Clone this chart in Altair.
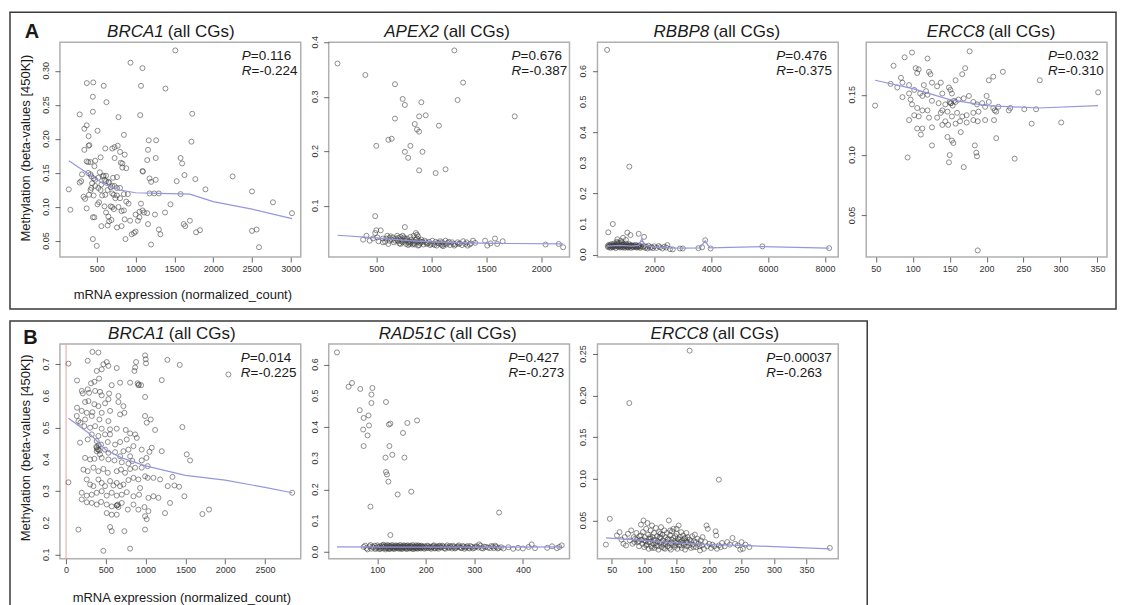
import altair as alt
import pandas as pd

FONT = "Liberation Sans"
W, H = 241, 215

# ---------------- data ----------------
A1_PTS = [(1512,0.330),(935,0.312),(1089,0.304),(372,0.282),(455,0.283),(590,0.278),(1070,0.278),(1385,0.274),
 (450,0.262),(625,0.254),(450,0.240),(1060,0.235),(780,0.232),(1730,0.237),(280,0.236),(340,0.215),(370,0.220),
 (510,0.212),(395,0.204),(850,0.206),(1720,0.196),(1170,0.198),(1265,0.198),(395,0.190),(405,0.191),(610,0.186),
 (700,0.186),(730,0.188),(770,0.190),(340,0.184),(1160,0.184),(860,0.177),(800,0.181),(730,0.172),(1260,0.172),
 (1580,0.172),(480,0.168),(370,0.167),(390,0.166),(420,0.166),(550,0.173),(810,0.165),(830,0.164),(1150,0.169),
 (1600,0.164),(830,0.158),(880,0.157),(1090,0.153),(1095,0.152),(280,0.136),(300,0.138),(310,0.148),(390,0.150),
 (420,0.148),(430,0.145),(460,0.142),(480,0.140),(520,0.143),(580,0.145),(590,0.146),(600,0.140),(620,0.138),
 (650,0.137),(660,0.136),(700,0.131),(730,0.131),(760,0.128),(800,0.128),(1180,0.142),(1260,0.140),(1200,0.137),
 (1530,0.138),(1630,0.147),(1770,0.141),(2250,0.145),(330,0.115),(400,0.118),(420,0.125),(430,0.128),(460,0.117),
 (350,0.112),(140,0.126),(160,0.096),(550,0.125),(570,0.117),(610,0.118),(700,0.120),(720,0.118),(740,0.113),
 (760,0.117),(800,0.113),(850,0.119),(900,0.119),(1180,0.120),(1240,0.120),(1300,0.120),(1580,0.119),(1900,0.126),
 (2500,0.123),(370,0.098),(510,0.104),(530,0.107),(600,0.101),(620,0.092),(650,0.086),(680,0.101),(700,0.100),
 (720,0.097),(780,0.100),(820,0.094),(850,0.095),(880,0.108),(910,0.105),(1000,0.089),(1050,0.093),(1070,0.105),
 (1090,0.095),(1110,0.092),(1150,0.091),(1250,0.089),(1380,0.092),(1450,0.104),(2770,0.107),(3015,0.091),
 (450,0.085),(470,0.085),(560,0.072),(640,0.073),(660,0.079),(690,0.081),(760,0.070),(820,0.072),(860,0.082),
 (930,0.080),(1030,0.080),(1050,0.085),(1160,0.075),(1620,0.075),(1640,0.072),(1700,0.080),(1780,0.063),
 (1830,0.066),(450,0.053),(500,0.043),(870,0.053),(950,0.060),(980,0.062),(1000,0.064),(1200,0.045),(1300,0.067),
 (1320,0.060),(2500,0.065),(2560,0.067),(2590,0.041),(440,0.135),(480,0.131),(520,0.128),(560,0.133),(640,0.125),
 (680,0.129),(540,0.151),(470,0.160),(620,0.146),(710,0.143),(760,0.144)]
A1_LOW = [(140,0.168),(400,0.148),(600,0.133),(800,0.125),(1000,0.121),(1300,0.120),(1700,0.119),(2000,0.108),
 (2500,0.097),(3015,0.083)]

A2_PTS = [(147,0.361),(400,0.340),(670,0.323),(1290,0.326),(1210,0.385),(740,0.296),(760,0.285),(910,0.290),
 (1240,0.294),(670,0.260),(890,0.264),(950,0.266),(1070,0.247),(850,0.250),(870,0.240),(890,0.236),(1760,0.264),
 (500,0.210),(610,0.221),(640,0.223),(810,0.210),(760,0.199),(920,0.199),(790,0.188),(890,0.165),(1040,0.160),
 (1130,0.167),(490,0.081),(760,0.061),
 (380,0.038),(410,0.045),(440,0.036),(470,0.040),(490,0.050),(500,0.055),(510,0.042),(520,0.035),(540,0.055),
 (560,0.040),(580,0.034),(600,0.045),(620,0.036),(640,0.038),(650,0.042),(660,0.033),(680,0.040),(690,0.045),
 (700,0.035),(710,0.031),(720,0.043),(730,0.038),(740,0.033),(750,0.042),(760,0.036),(770,0.030),(780,0.040),
 (790,0.028),(800,0.035),(810,0.032),(820,0.038),(830,0.029),(840,0.045),(850,0.034),(860,0.050),(870,0.040),
 (880,0.027),(890,0.036),(900,0.031),(910,0.038),(920,0.034),(930,0.029),(950,0.033),(970,0.031),(990,0.028),
 (1010,0.036),(1020,0.030),(1040,0.034),(1050,0.027),(1060,0.032),(1080,0.035),(1090,0.029),(1100,0.033),
 (1110,0.026),(1120,0.030),(1130,0.036),(1150,0.032),(1170,0.028),(1190,0.033),(1200,0.030),(1220,0.029),
 (1240,0.033),(1260,0.031),(1290,0.035),(1310,0.030),(1330,0.027),(1350,0.029),(1380,0.036),(1400,0.032),
 (1490,0.036),(1510,0.027),(1540,0.031),(1580,0.040),(1600,0.030),(1650,0.035),(2040,0.029),(2160,0.030),
 (2200,0.024),(870,0.047),(880,0.044),(620,0.041),(690,0.037),(730,0.035),(760,0.040),(800,0.030),(840,0.031),
 (560,0.033),(590,0.040),(610,0.030),(630,0.044),(670,0.036),(700,0.041),(720,0.030),(740,0.045),(770,0.037),
 (790,0.033),(810,0.043),(825,0.034),(850,0.029),(860,0.038),(875,0.033),(890,0.028),(905,0.034),(940,0.036),
 (960,0.030),(980,0.034),(1000,0.030),(1030,0.028),(1070,0.031),(1100,0.027),(1140,0.029),(1160,0.034),
 (1210,0.027),(1250,0.030),(1280,0.028),(1320,0.033),(1360,0.031)]
A2_LOW = [(147,0.046),(500,0.041),(800,0.036),(1000,0.034),(1300,0.032),(1600,0.031),(2200,0.030)]

A3_PTS = [(340,0.670),(1120,0.288),(540,0.100),(380,0.073),(1050,0.072),(1160,0.064),(1450,0.068),(1640,0.058),
 (900,0.055),(1000,0.048),(700,0.050),(820,0.045),(2650,0.017),(2900,0.020),(3000,0.020),(3550,0.021),
 (3680,0.024),(3790,0.047),(3980,0.020),(5800,0.027),(8150,0.021),
 (360,0.028),(380,0.024),(400,0.032),(420,0.026),(440,0.030),(460,0.022),(480,0.034),(500,0.027),(520,0.031),
 (540,0.024),(560,0.029),(580,0.036),(600,0.026),(620,0.032),(640,0.021),(660,0.030),(680,0.042),(700,0.027),
 (720,0.033),(740,0.025),(760,0.038),(780,0.029),(800,0.023),(820,0.031),(840,0.027),(860,0.035),(880,0.024),
 (900,0.030),(920,0.026),(940,0.033),(960,0.022),(980,0.029),(1000,0.036),(1020,0.025),(1040,0.031),(1060,0.027),
 (1080,0.023),(1100,0.030),(1120,0.034),(1140,0.026),(1160,0.029),(1180,0.022),(1200,0.031),(1230,0.027),
 (1260,0.024),(1290,0.030),(1320,0.026),(1350,0.032),(1380,0.023),(1410,0.028),(1440,0.025),(1470,0.030),
 (1500,0.022),(1530,0.027),(1560,0.035),(1600,0.024),(1640,0.028),(1680,0.022),(1720,0.026),(1760,0.020),
 (1800,0.029),(1850,0.023),(1900,0.025),(1950,0.021),(2000,0.027),(2080,0.022),(2150,0.028),(2200,0.024),
 (2280,0.020),(2350,0.026),(2420,0.023),(2460,0.031),(2550,0.018),
 (450,0.028),(520,0.025),(580,0.030),(640,0.027),(700,0.031),(760,0.028),(820,0.026),(880,0.032),(940,0.027),
 (1000,0.028),(1060,0.024),(1120,0.028),(1180,0.030),(1240,0.026),(1300,0.028),(1360,0.025),(1420,0.027),
 (1480,0.026),(700,0.038),(860,0.040)]
A3_LOW = [(340,0.028),(800,0.030),(1200,0.028),(1450,0.030),(1560,0.052),(1650,0.030),(2000,0.025),(2500,0.022),
 (3000,0.021),(3600,0.022),(3790,0.045),(3950,0.022),(5800,0.026),(8150,0.021)]

A4_PTS = [(49,0.141),(74,0.174),(89,0.181),(99,0.185),(120,0.180),(177,0.186),(104,0.172),(106,0.168),(108,0.171),
 (122,0.169),(124,0.167),(171,0.172),(167,0.167),(158,0.162),(209,0.165),(203,0.162),(222,0.169),(272,0.162),
 (70,0.159),(84,0.164),(86,0.160),(79,0.156),(95,0.158),(115,0.158),(126,0.160),(133,0.157),(138,0.160),
 (149,0.156),(151,0.154),(153,0.151),(140,0.151),(95,0.151),(102,0.154),(86,0.148),(97,0.146),(113,0.149),
 (120,0.150),(126,0.145),(135,0.143),(144,0.142),(151,0.143),(158,0.144),(162,0.146),(169,0.147),(176,0.149),
 (182,0.144),(187,0.142),(194,0.143),(198,0.140),(203,0.144),(216,0.140),(200,0.149),(99,0.142),(106,0.139),
 (113,0.137),(108,0.132),(95,0.129),(102,0.133),(120,0.137),(122,0.131),(133,0.131),(138,0.135),(140,0.137),
 (147,0.136),(153,0.132),(160,0.135),(167,0.132),(173,0.133),(182,0.135),(189,0.136),(144,0.128),(140,0.125),
 (148,0.125),(158,0.126),(164,0.128),(173,0.127),(182,0.129),(188,0.128),(198,0.129),(209,0.139),(211,0.137),
 (210,0.129),(213,0.136),(230,0.137),(232,0.139),(251,0.138),(267,0.138),(261,0.126),(301,0.127),(351,0.152),
 (106,0.122),(113,0.122),(111,0.117),(126,0.108),(126,0.123),(147,0.115),(153,0.112),(155,0.110),(150,0.100),
 (149,0.094),(165,0.119),(184,0.108),(186,0.102),(187,0.099),(169,0.090),(213,0.114),(238,0.097),(93,0.098),
 (188,0.021),(152,0.143),(154,0.141),(150,0.144),(156,0.145),(118,0.153),(110,0.151)]
A4_LOW = [(49,0.162),(100,0.155),(150,0.146),(200,0.141),(270,0.139),(351,0.141)]

B1_PTS = [(30,0.702),(331,0.739),(406,0.737),(272,0.711),(469,0.700),(511,0.707),(448,0.684),(385,0.679),
 (532,0.695),(637,0.688),(880,0.707),(868,0.690),(859,0.679),(993,0.728),(1001,0.716),(1005,0.703),(1274,0.714),
 (1429,0.698),(2041,0.668),(138,0.649),(314,0.640),(356,0.645),(415,0.655),(272,0.621),(197,0.616),(210,0.608),
 (289,0.610),(365,0.616),(427,0.613),(574,0.634),(679,0.642),(805,0.642),(909,0.634),(943,0.634),(658,0.600),
 (532,0.590),(541,0.608),(448,0.602),(993,0.597),(1203,0.650),(138,0.563),(239,0.581),(281,0.584),(356,0.574),
 (406,0.568),(490,0.577),(658,0.581),(721,0.568),(553,0.553),(448,0.547),(331,0.549),(260,0.547),(197,0.553),
 (134,0.537),(155,0.521),(180,0.516),(239,0.526),(323,0.537),(419,0.526),(532,0.521),(679,0.542),(733,0.547),
 (993,0.537),(1064,0.526),(1014,0.516),(1119,0.493),(1462,0.502),(230,0.505),(302,0.500),(365,0.505),(448,0.497),
 (553,0.495),(637,0.497),(750,0.493),(805,0.482),(868,0.479),(889,0.468),(553,0.479),(490,0.479),(406,0.474),
 (323,0.479),(176,0.453),(272,0.463),(385,0.458),(440,0.447),(524,0.455),(616,0.447),(679,0.455),(763,0.463),
 (847,0.442),(951,0.431),(1048,0.424),(1077,0.437),(385,0.437),(406,0.431),(385,0.426),(427,0.416),(490,0.431),
 (532,0.421),(616,0.423),(679,0.410),(721,0.426),(784,0.431),(805,0.410),(239,0.405),(302,0.400),(356,0.402),
 (448,0.405),(532,0.400),(608,0.397),(700,0.391),(784,0.387),(834,0.395),(951,0.397),(1010,0.405),(1026,0.379),
 (1203,0.426),(1517,0.416),(1559,0.397),(30,0.328),(218,0.368),(272,0.363),(344,0.374),(406,0.363),(469,0.370),
 (524,0.358),(637,0.363),(691,0.368),(742,0.358),(805,0.370),(868,0.374),(951,0.374),(993,0.347),(1026,0.342),
 (1098,0.342),(1182,0.337),(1337,0.345),(1278,0.316),(1362,0.318),(1421,0.314),(260,0.337),(302,0.321),
 (344,0.316),(406,0.337),(448,0.326),(490,0.316),(553,0.332),(595,0.318),(637,0.326),(679,0.316),(721,0.321),
 (784,0.335),(847,0.342),(909,0.337),(930,0.310),(197,0.295),(260,0.286),(323,0.289),(385,0.295),(448,0.300),
 (511,0.286),(574,0.295),(637,0.286),(700,0.289),(763,0.297),(847,0.284),(918,0.289),(1035,0.279),(1098,0.284),
 (1161,0.279),(1307,0.263),(1487,0.284),(197,0.274),(260,0.265),(323,0.263),(385,0.258),(440,0.266),(511,0.258),
 (574,0.252),(637,0.255),(658,0.250),(700,0.263),(776,0.242),(847,0.258),(909,0.242),(985,0.250),(1035,0.237),
 (1244,0.231),(1714,0.228),(1797,0.242),(511,0.231),(574,0.226),(637,0.226),(993,0.221),(1014,0.212),(155,0.179),
 (553,0.187),(574,0.174),(733,0.174),(993,0.179),(469,0.112),(805,0.119),(2843,0.295),(380,0.440),(395,0.432),
 (410,0.445),(420,0.428),(640,0.255),(650,0.258),(900,0.640),(915,0.636)]
B1_LOW = [(30,0.530),(300,0.480),(500,0.430),(700,0.405),(1000,0.380),(1500,0.350),(2000,0.335),(2500,0.312),
 (2843,0.295)]
B1_VLINE = [0]

B2_PTS = [(17,0.639),(41,0.529),(48,0.541),(65,0.522),(90,0.525),(88,0.504),(88,0.477),(64,0.454),(82,0.437),
 (72,0.429),(83,0.405),(71,0.392),(80,0.373),(72,0.339),(118,0.480),(124,0.408),(127,0.411),(125,0.339),
 (131,0.311),(117,0.302),(153,0.381),(162,0.413),(182,0.421),(156,0.302),(118,0.256),(120,0.248),(123,0.225),
 (142,0.184),(170,0.193),(86,0.145),(127,0.054),(351,0.126),
 (72,0.016),(78,0.012),(84,0.018),(88,0.010),(92,0.014),(95,0.020),(98,0.012),(101,0.016),(104,0.009),(106,0.018),
 (108,0.013),(110,0.021),(112,0.011),(114,0.016),(116,0.019),(118,0.012),(120,0.015),(121,0.022),(123,0.010),
 (125,0.017),(127,0.013),(128,0.020),(130,0.015),(132,0.011),(134,0.018),(136,0.014),(138,0.021),(140,0.012),
 (142,0.016),(144,0.019),(146,0.010),(148,0.015),(150,0.018),(152,0.013),(154,0.021),(156,0.016),(158,0.011),
 (160,0.019),(162,0.014),(164,0.017),(166,0.012),(168,0.020),(170,0.015),(172,0.010),(174,0.018),(176,0.013),
 (178,0.016),(180,0.021),(182,0.012),(184,0.017),(186,0.014),(188,0.019),(190,0.011),(192,0.016),(195,0.013),
 (198,0.018),(200,0.015),(203,0.020),(206,0.012),(209,0.017),(212,0.014),(215,0.019),(218,0.011),(221,0.016),
 (224,0.013),(227,0.018),(230,0.015),(234,0.020),(238,0.012),(242,0.017),(246,0.014),(250,0.019),(254,0.011),
 (258,0.016),(262,0.013),(266,0.018),(270,0.015),(274,0.012),(278,0.017),(282,0.014),(286,0.019),(290,0.011),
 (295,0.016),(300,0.013),(305,0.018),(310,0.024),(315,0.012),(320,0.017),(328,0.014),(335,0.019),(340,0.012),
 (345,0.016),(350,0.013),(360,0.011),(370,0.015),(380,0.010),(390,0.013),(400,0.011),(412,0.016),(418,0.024),
 (425,0.012),(450,0.013),(460,0.018),(470,0.012),(475,0.016),(480,0.021),
 (75,0.020),(80,0.008),(86,0.022),(90,0.017),(96,0.009),(100,0.021),(103,0.014),(107,0.010),(111,0.017),
 (113,0.023),(117,0.008),(119,0.018),(122,0.012),(124,0.020),(126,0.009),(129,0.016),(131,0.022),(133,0.013),
 (135,0.009),(137,0.017),(139,0.014),(141,0.020),(143,0.011),(145,0.016),(147,0.022),(149,0.012),(151,0.009),
 (153,0.017),(155,0.014),(157,0.020),(159,0.013),(161,0.009),(163,0.021),(165,0.016),(167,0.011),(169,0.018),
 (171,0.013),(173,0.022),(175,0.009),(177,0.016),(179,0.012),(181,0.018),(183,0.010),(185,0.021),(187,0.015),
 (189,0.012),(191,0.020),(194,0.017),(197,0.010),(201,0.012),(205,0.018),(208,0.014),(211,0.010),(214,0.016),
 (217,0.021),(220,0.012),(223,0.018),(226,0.010),(229,0.020),(232,0.014),(236,0.017),(240,0.010),(244,0.021),
 (248,0.013),(252,0.016),(256,0.020),(260,0.011),(264,0.016),(268,0.021),(272,0.013),(276,0.019),(280,0.010),
 (284,0.016),(288,0.013),(292,0.019),(297,0.011),(302,0.017),(308,0.014),(313,0.020),(318,0.011),(324,0.016),
 (332,0.012),(338,0.017),(343,0.020),(348,0.011),(355,0.015)]
B2_LOW = [(17,0.016),(150,0.015),(300,0.015),(480,0.016)]

B3_PTS = [(170,0.254),(77,0.191),(215,0.099),(47,0.052),(41,0.021),(386,0.017),
 (58,0.032),(62,0.036),(65,0.027),(68,0.022),(70,0.030),(72,0.020),(75,0.034),(78,0.026),(80,0.038),(82,0.022),
 (84,0.030),(86,0.028),(88,0.035),(90,0.024),(92,0.019),(93,0.031),(95,0.045),(96,0.027),(97,0.022),(98,0.036),
 (99,0.050),(100,0.018),(101,0.030),(102,0.025),(103,0.040),(104,0.021),(105,0.047),(106,0.033),(107,0.016),
 (108,0.028),(109,0.024),(110,0.038),(111,0.019),(112,0.044),(113,0.030),(114,0.022),(115,0.035),(116,0.017),
 (117,0.027),(118,0.041),(119,0.020),(120,0.031),(121,0.025),(122,0.015),(123,0.036),(124,0.023),(125,0.029),
 (126,0.042),(127,0.018),(128,0.033),(129,0.026),(130,0.021),(131,0.038),(132,0.016),(133,0.030),(134,0.024),
 (135,0.035),(136,0.019),(137,0.028),(138,0.050),(139,0.022),(140,0.032),(141,0.015),(142,0.027),(143,0.037),
 (144,0.021),(145,0.040),(146,0.025),(147,0.018),(148,0.031),(149,0.023),(150,0.034),(151,0.016),(152,0.028),
 (153,0.044),(154,0.020),(155,0.030),(156,0.024),(157,0.036),(158,0.017),(159,0.026),(160,0.032),(161,0.021),
 (162,0.028),(163,0.015),(164,0.025),(165,0.035),(166,0.019),(167,0.030),(168,0.023),(170,0.027),(172,0.017),
 (174,0.031),(175,0.021),(177,0.025),(178,0.033),(180,0.018),(182,0.028),(184,0.022),(186,0.014),(187,0.026),
 (189,0.020),(190,0.030),(192,0.016),(194,0.024),(196,0.044),(197,0.019),(198,0.040),(200,0.022),(203,0.017),
 (205,0.021),(208,0.019),(210,0.037),(211,0.032),(212,0.016),(215,0.020),(218,0.018),(220,0.023),(224,0.019),
 (228,0.024),(232,0.021),(236,0.029),(240,0.022),(244,0.020),(248,0.015),(250,0.024),(252,0.016),(256,0.021),
 (262,0.018),
 (100,0.026),(103,0.020),(106,0.024),(109,0.030),(112,0.017),(115,0.026),(118,0.023),(121,0.019),(124,0.030),
 (127,0.024),(130,0.017),(133,0.022),(136,0.027),(139,0.017),(142,0.023),(145,0.029),(148,0.020),(151,0.024),
 (154,0.027),(157,0.020),(160,0.023),(163,0.029),(166,0.024),(169,0.020),(172,0.025),(176,0.018),(180,0.024),
 (185,0.019),(88,0.027),(92,0.025),(95,0.032),(85,0.024),(110,0.028),(125,0.034),(140,0.038),(150,0.040)]
B3_LOW = [(41,0.029),(100,0.026),(150,0.023),(200,0.021),(250,0.020),(386,0.016)]

# ---------------- per-panel settings ----------------
GENE_EM = {"BRCA1": 3.334, "APEX2": 3.224, "RBBP8": 3.279, "ERCC8": 3.389, "RAD51C": 3.945}
REST_EM = 3.944
TITLE_FS = 17
ANN_FS = 13.5

panels = [
    dict(gene="BRCA1", pts=A1_PTS, low=A1_LOW, xd=[26, 3128], yd=[0.0266, 0.342],
         xt=[500, 1000, 1500, 2000, 2500, 3000], yt=[0.05, 0.10, 0.15, 0.20, 0.25, 0.30], yf="{:.2f}",
         p="=0.116", r="=-0.224", ax=182, tc=111),
    dict(gene="APEX2", pts=A2_PTS, low=A2_LOW, xd=[67, 2258], yd=[0.006, 0.400],
         xt=[500, 1000, 1500, 2000], yt=[0.1, 0.2, 0.3, 0.4], yf="{:.1f}",
         p="=0.676", r="=-0.387", ax=183, tc=118.5),
    dict(gene="RBBP8", pts=A3_PTS, low=A3_LOW, xd=[0, 8470], yd=[-0.008, 0.695],
         xt=[2000, 4000, 6000, 8000], yt=[0.0, 0.1, 0.2, 0.3, 0.4, 0.5, 0.6], yf="{:.1f}",
         p="=0.476", r="=-0.375", ax=179, tc=119.5),
    dict(gene="ERCC8", pts=A4_PTS, low=A4_LOW, xd=[37, 363], yd=[0.0155, 0.1935],
         xt=[50, 100, 150, 200, 250, 300, 350], yt=[0.05, 0.10, 0.15], yf="{:.2f}",
         p="=0.032", r="=-0.310", ax=182, tc=125),
    dict(gene="BRCA1", pts=B1_PTS, low=B1_LOW, xd=[-77, 2950], yd=[0.087, 0.764],
         xt=[0, 500, 1000, 1500, 2000, 2500], yt=[0.1, 0.2, 0.3, 0.4, 0.5, 0.6, 0.7], yf="{:.1f}",
         p="=0.014", r="=-0.225", ax=181, tc=112, vline=B1_VLINE),
    dict(gene="RAD51C", pts=B2_PTS, low=B2_LOW, xd=[0, 496], yd=[-0.022, 0.666],
         xt=[100, 200, 300, 400], yt=[0.0, 0.1, 0.2, 0.3, 0.4, 0.5, 0.6], yf="{:.1f}",
         p="=0.427", r="=-0.273", ax=180, tc=119),
    dict(gene="ERCC8", pts=B3_PTS, low=B3_LOW, xd=[28, 399], yd=[0.004, 0.262],
         xt=[50, 100, 150, 200, 250, 300, 350, 400], yt=[0.05, 0.10, 0.15, 0.20, 0.25], yf="{:.2f}",
         p="=0.00037", r="=-0.263", ax=169, tc=117.5),
]

ONE = pd.DataFrame({"k": [0]})


def txt(text, x, y, size, style="normal", weight="normal", align="left", baseline="alphabetic", angle=0):
    kw = dict(text=text, font=FONT, fontSize=size, fontStyle=style, fontWeight=weight,
              align=align, baseline=baseline, color="#1a1a1a")
    if angle:
        kw["angle"] = angle
    return alt.Chart(ONE).mark_text(**kw).encode(x=alt.value(x), y=alt.value(y))


def make_panel(i, d):
    xs = alt.Scale(domain=d["xd"], nice=False, zero=False)
    ys = alt.Scale(domain=d["yd"], nice=False, zero=False)
    xax = alt.Axis(values=d["xt"], format="d", title=None, grid=False, domain=False,
                   tickColor="#666", tickSize=5, labelPadding=2, labelFont=FONT, labelFontSize=9,
                   labelColor="#333", labelFlush=False, labelOverlap=False)
    yax = alt.Axis(values=d["yt"], title=None, grid=False, domain=False, labels=False,
                   tickColor="#666", tickSize=5)
    pts = pd.DataFrame(d["pts"], columns=["x", "y"])
    low = pd.DataFrame(d["low"], columns=["x", "y"])
    ylab = pd.DataFrame({"v": d["yt"], "t": [d["yf"].format(v) for v in d["yt"]]})
    layers = [
        alt.Chart(pts).mark_point(shape="circle", filled=False, size=25, strokeWidth=0.9,
                                  color="#404040", opacity=0.65)
        .encode(x=alt.X("x:Q", scale=xs, axis=xax), y=alt.Y("y:Q", scale=ys, axis=yax)),
        alt.Chart(low).mark_line(color="#9696e0", strokeWidth=1.2)
        .encode(x=alt.X("x:Q", scale=xs), y=alt.Y("y:Q", scale=ys)),
        alt.Chart(ylab).mark_text(font=FONT, fontSize=9, color="#333", angle=270, align="center",
                                  baseline="bottom")
        .encode(x=alt.value(-9), y=alt.Y("v:Q", scale=ys), text="t:N"),
    ]
    if "vline" in d:
        layers.insert(0, alt.Chart(pd.DataFrame({"x": d["vline"]})).mark_rule(color="#e6a3a3", strokeWidth=1)
                      .encode(x=alt.X("x:Q", scale=xs)))
    # title: italic gene + normal "(all CGs)"
    gw = GENE_EM[d["gene"]] * TITLE_FS
    total = gw + 4 + REST_EM * TITLE_FS
    split = d["tc"] - total / 2 + gw
    layers.append(txt(d["gene"], split, -5, TITLE_FS, style="italic", align="right"))
    layers.append(txt("(all CGs)", split + 4, -5, TITLE_FS, align="left"))
    # P / R annotation
    ax = d["ax"]
    layers.append(txt("P", ax, 18, ANN_FS, style="italic"))
    layers.append(txt(d["p"], ax + 0.667 * ANN_FS, 18, ANN_FS))
    layers.append(txt("R", ax, 33, ANN_FS, style="italic"))
    layers.append(txt(d["r"], ax + 0.722 * ANN_FS, 33, ANN_FS))
    if i in (0, 4):
        top = i == 0
        # panel letter, frame, shared axis titles
        layers.append(txt("A" if top else "B", -28 if top else -29.5, -10 if top else -5.5, 20,
                          weight="bold", align="center", baseline="middle"))
        layers.append(txt("Methylation (beta-values [450K])", -34, 106 if top else 104, 13,
                          align="center", baseline="middle", angle=270))
        layers.append(txt("mRNA expression (normalized_count)", 123 if top else 122, 257 if top else 258, 13,
                          align="center"))
        fx2, fy1, fy2 = (1057, -30, 267) if top else (808, -23, 262)
        layers.append(alt.Chart(ONE).mark_rect(filled=False, stroke="#3a3a3a", strokeWidth=1.5)
                      .encode(x=alt.value(-50), x2=alt.value(fx2), y=alt.value(fy1), y2=alt.value(fy2)))
    return alt.layer(*layers).properties(width=W, height=H)


charts = [make_panel(i, d) for i, d in enumerate(panels)]

chart = (
    alt.concat(*charts, columns=4, spacing={"row": 87, "column": 28}, bounds="flush")
    .properties(padding={"left": 0, "top": 2, "right": 0, "bottom": 0})
    .configure_view(stroke="#b0b0b0", strokeWidth=1.5)
)

chart.save("out.html", embed_options={"renderer": "svg", "actions": False})
